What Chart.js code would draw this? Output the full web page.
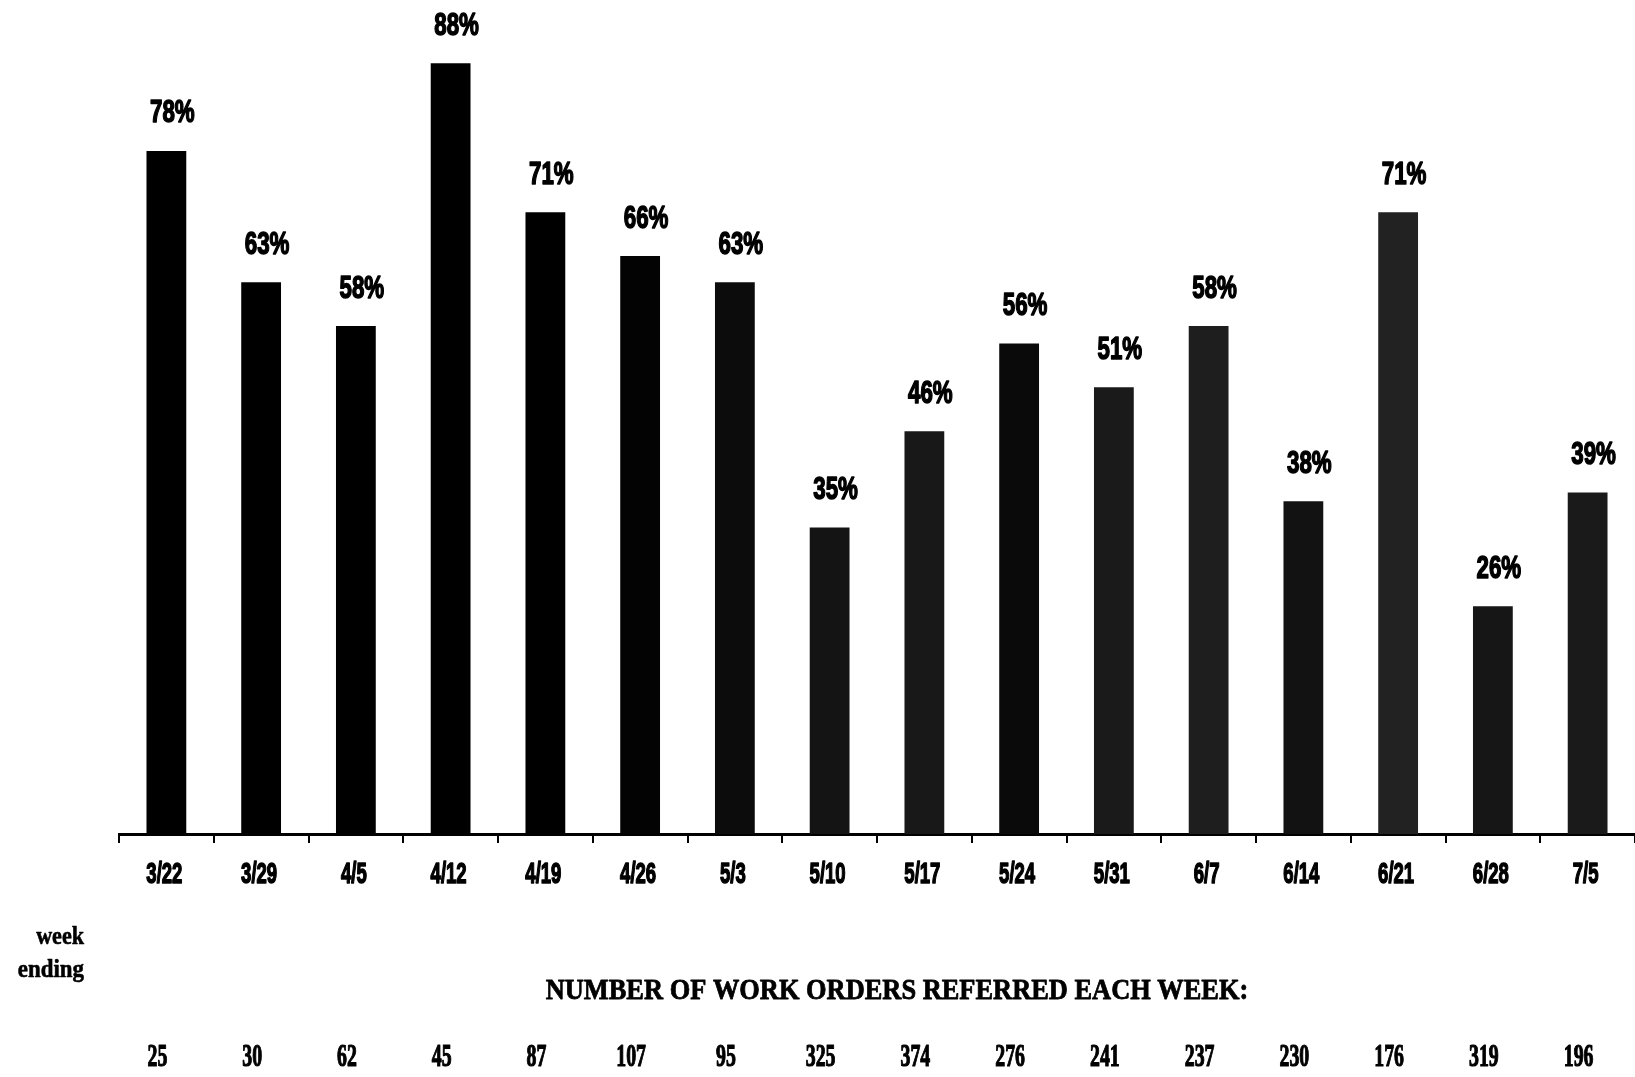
<!DOCTYPE html>
<html>
<head>
<meta charset="utf-8">
<script src="https://cdn.jsdelivr.net/npm/chart.js@4.4.1/dist/chart.umd.min.js"></script>
<style>
  html, body { margin: 0; padding: 0; background: #fff; }
  #wrap { width: 1635px; height: 1077px; }
</style>
</head>
<body>
<div id="wrap"><canvas id="c" width="1635" height="1077"></canvas></div>
<script>
// Week-ending dates
const weeks = ['3/22','3/29','4/5','4/12','4/19','4/26','5/3','5/10','5/17','5/24','5/31','6/7','6/14','6/21','6/28','7/5'];
// Percentage shown above each bar
const pct = [78,63,58,88,71,66,63,35,46,56,51,58,38,71,26,39];
// Work orders referred each week
const referred = [25,30,62,45,87,107,95,325,374,276,241,237,230,176,319,196];

const barFills = ['#000','#000','#000','#000','#000','#030303','#0c0c0c','#141414','#181818','#0a0a0a','#1a1a1a','#1e1e1e','#121212','#222','#161616','#1a1a1a'];

const sans = '"Liberation Sans", Arial, sans-serif';
const serif = '"Liberation Serif", "Times New Roman", serif';

// Draw text squeezed horizontally by factor sx; an optional outline thickens it
function condensed(ctx, text, x, y, sx, thicken) {
  ctx.save();
  ctx.translate(x, y);
  ctx.scale(sx, 1);
  if (thicken) {
    ctx.lineWidth = thicken;
    ctx.lineJoin = 'round';
    ctx.strokeStyle = '#000';
    ctx.strokeText(text, 0, 0);
  }
  ctx.fillText(text, 0, 0);
  ctx.restore();
}

// Percent labels above bars and the date labels under the axis
const labelsPlugin = {
  id: 'labelsPlugin',
  afterDatasetsDraw(chart) {
    const ctx = chart.ctx;
    const meta = chart.getDatasetMeta(0);
    const xs = chart.scales.x;
    ctx.save();
    ctx.fillStyle = '#000';
    ctx.textAlign = 'center';
    ctx.textBaseline = 'middle';
    ctx.font = 'bold 31px ' + sans;
    meta.data.forEach((bar, i) => {
      condensed(ctx, pct[i] + '%', bar.x + 6, bar.y - 37, 0.72, 1.5);
    });
    ctx.font = 'bold 29px ' + sans;
    weeks.forEach((w, i) => {
      condensed(ctx, w, xs.getPixelForValue(i) - 2, xs.top + 41, 0.64, 1.5);
    });
    ctx.restore();
  }
};

// Caption block: "week ending", title and the counts row
const footer = {
  id: 'footer',
  afterDraw(chart) {
    const ctx = chart.ctx;
    const xs = chart.scales.x;
    ctx.save();
    ctx.fillStyle = '#000';
    ctx.textBaseline = 'middle';
    ctx.textAlign = 'right';
    ctx.font = 'bold 26px ' + serif;
    condensed(ctx, 'week', 84, 937, 0.85, 0.6);
    condensed(ctx, 'ending', 84, 970, 0.88, 0.6);

    ctx.textAlign = 'center';
    ctx.font = 'bold 30px ' + serif;
    condensed(ctx, 'NUMBER OF WORK ORDERS REFERRED EACH WEEK:', 897, 991, 0.88, 0.8);

    ctx.font = 'bold 32px ' + serif;
    referred.forEach((n, i) => {
      condensed(ctx, String(n), xs.getPixelForValue(i) - 9, 1058, 0.62, 1.2);
    });
    ctx.restore();
  }
};

new Chart(document.getElementById('c'), {
  type: 'bar',
  data: {
    labels: weeks,
    datasets: [{
      data: pct,
      backgroundColor: barFills,
      borderWidth: 0,
      barPercentage: 0.42,
      categoryPercentage: 1.0
    }]
  },
  options: {
    responsive: false,
    animation: false,
    layout: { padding: { left: 119, right: 0, top: 2, bottom: 0 } },
    plugins: { legend: { display: false }, tooltip: { enabled: false } },
    scales: {
      y: { display: false, min: 0, max: 95 },
      x: {
        afterFit(scale) { scale.height = 243; },
        border: { display: true, color: '#000', width: 3 },
        grid: { display: true, drawOnChartArea: false, drawTicks: true, tickLength: 9, color: '#000', lineWidth: 2, offset: true },
        ticks: {
          color: 'rgba(0,0,0,0)',
          padding: 20,
          maxRotation: 0,
          font: { family: sans, size: 20, weight: 'bold' }
        }
      }
    }
  },
  plugins: [labelsPlugin, footer]
});
</script>
</body>
</html>
